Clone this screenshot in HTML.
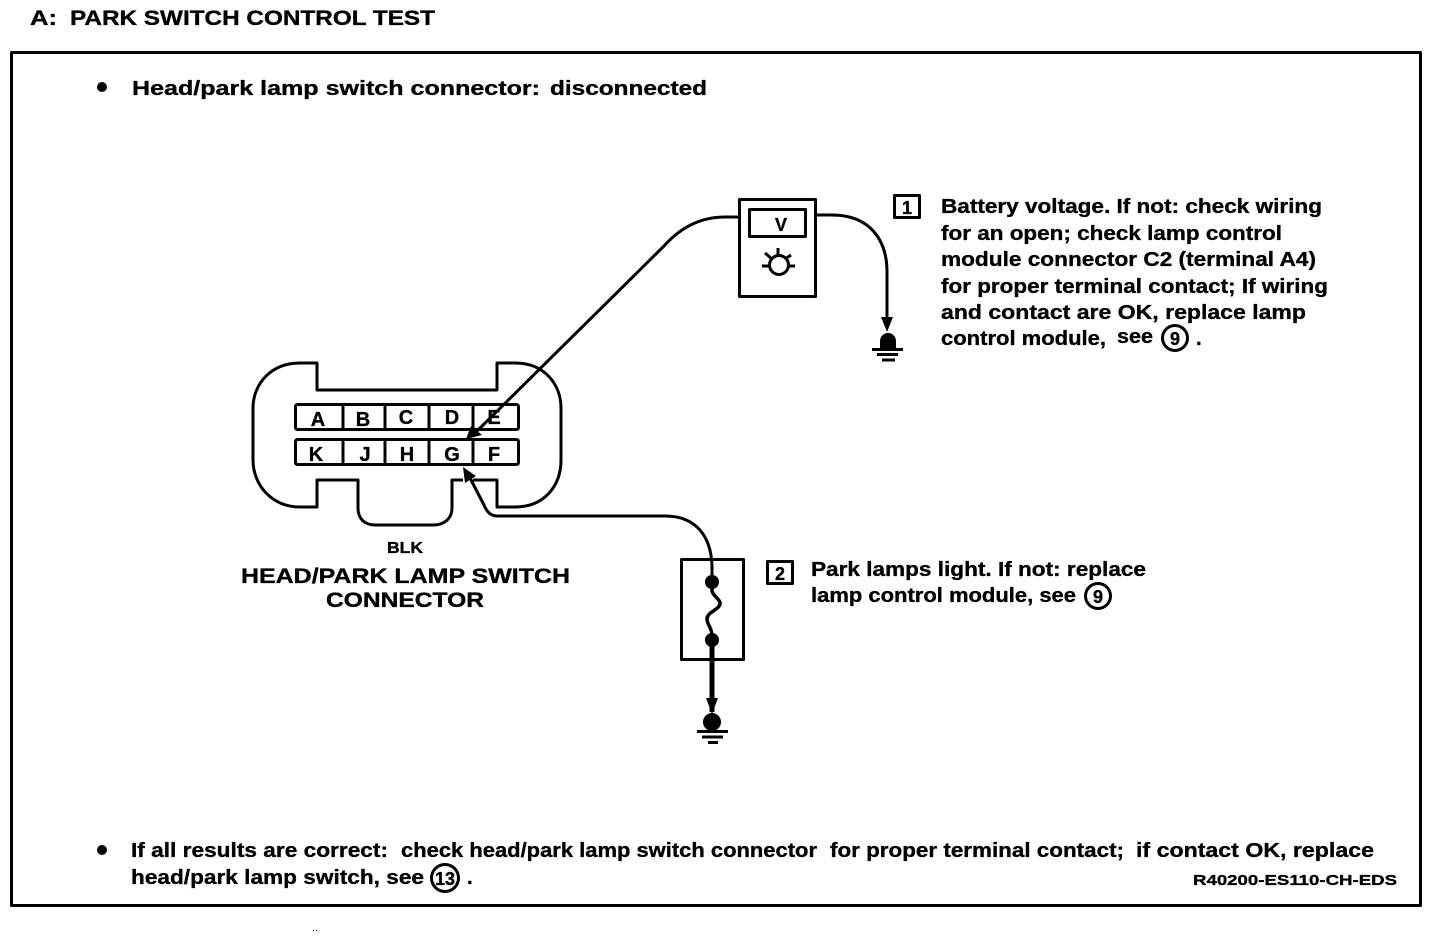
<!DOCTYPE html>
<html><head><meta charset="utf-8"><style>
html,body{margin:0;padding:0;background:#fff;width:1440px;height:936px;overflow:hidden}
svg{display:block}
text{font-family:"Liberation Sans",sans-serif;font-weight:bold;fill:#000;stroke:#000;stroke-width:.35}
.l{fill:none;stroke:#000;stroke-width:3;stroke-linejoin:round}
</style></head><body>
<svg width="1440" height="936" viewBox="0 0 1440 936" xmlns="http://www.w3.org/2000/svg">
<text x="30" y="25" font-size="21" textLength="27" lengthAdjust="spacingAndGlyphs">A:</text>
<text x="70" y="25" font-size="21" textLength="365" lengthAdjust="spacingAndGlyphs">PARK SWITCH CONTROL TEST</text>
<rect x="11.500" y="52.500" width="1409" height="853" class="l"/>
<circle cx="102" cy="87" r="5"/>
<text x="132" y="95" font-size="20.500" textLength="408" lengthAdjust="spacingAndGlyphs">Head/park lamp switch connector:</text>
<text x="550" y="95" font-size="20.500" textLength="157" lengthAdjust="spacingAndGlyphs">disconnected</text>

<!-- connector -->
<path class="l" d="M463 480 H452 V508 C452 518 445 525 433 525 H375 C364 525 358 518 358 508 V480 H317 V507 H300 C272 507 253 485 253 460 V408 C253 385 270 363 300 363 H317 V390 H497 V363 H515 C545 363 561 385 561 408 V460 C561 485 545 507 515 507 H497 V480 H473"/>
<rect x="295.500" y="404.500" width="223" height="25" rx="2" class="l"/>
<rect x="295.500" y="439.500" width="223" height="25" rx="2" class="l"/>
<path class="l" d="M343 405V429M385 405V429M429 405V429M473 405V429M343 440V464M385 440V464M429 440V464M473 440V464"/>
<g font-size="20" text-anchor="middle">
<text x="318" y="426">A</text><text x="363" y="426">B</text><text x="406" y="424">C</text><text x="452" y="424">D</text><text x="494" y="424">E</text>
<text x="316" y="461">K</text><text x="365" y="461">J</text><text x="407" y="461">H</text><text x="452" y="461">G</text><text x="494" y="461">F</text>
</g>
<text x="387" y="553" font-size="15.500" textLength="36" lengthAdjust="spacingAndGlyphs">BLK</text>
<text x="241" y="583" font-size="21" textLength="329" lengthAdjust="spacingAndGlyphs">HEAD/PARK LAMP SWITCH</text>
<text x="326" y="607" font-size="21" textLength="158" lengthAdjust="spacingAndGlyphs">CONNECTOR</text>

<!-- meter -->
<rect x="739.500" y="199.500" width="76" height="97" class="l"/>
<rect x="749.500" y="209.500" width="56" height="27" class="l"/>
<text x="781" y="231" font-size="18" text-anchor="middle">V</text>
<circle cx="779" cy="265" r="9.500" class="l"/>
<path class="l" d="M762 266H770M788 266H795M778 248V256M765 253L772 259M791 255L785 259"/>
<path class="l" d="M738 217 H725 C700 217 680 228 664 246 L475 433"/>
<polygon points="466,439 471,426 482,435"/>
<path class="l" d="M816 215 H832 C870 215 887 240 887 272 V322"/>
<polygon points="881,317 893,317 887,332"/>
<circle cx="888" cy="341" r="8"/><rect x="880" y="341" width="16" height="8"/>
<path class="l" d="M872 349.500H903M877 354.500H898M882 360H895"/>

<!-- switch -->
<rect x="681.500" y="559.500" width="62" height="100" class="l"/>
<path d="M712 586 V591 C713 596 721 600 720 604 C719 610 707 612 707 619 C707 625 712 627 712 636" fill="none" stroke="#000" stroke-width="3.500"/>
<circle cx="712" cy="582" r="7"/><circle cx="712" cy="640" r="7"/>
<path d="M712 645 V712" fill="none" stroke="#000" stroke-width="5"/>
<polygon points="706,698 718,698 712,714"/>
<circle cx="712" cy="722" r="9"/>
<path class="l" d="M697 731.500H728M702 737H723M708 742.500H718"/>
<path class="l" d="M712 582 V566 C711 535 695 516 665 516 H497 C490 516 486 510 484 505 L470 478"/>
<polygon points="463,467 465,483 476,476"/>

<!-- numbered boxes -->
<rect x="894.500" y="195.500" width="25" height="22" class="l"/>
<text x="907" y="214" font-size="18" text-anchor="middle">1</text>
<rect x="767.500" y="561.500" width="25" height="22" class="l"/>
<text x="780" y="580" font-size="18" text-anchor="middle">2</text>

<!-- text 1 -->
<g font-size="20.500">
<text x="941" y="213" textLength="381" lengthAdjust="spacingAndGlyphs">Battery voltage. If not: check wiring</text>
<text x="941" y="240" textLength="341" lengthAdjust="spacingAndGlyphs">for an open; check lamp control</text>
<text x="941" y="266" textLength="375" lengthAdjust="spacingAndGlyphs">module connector C2 (terminal A4)</text>
<text x="941" y="293" textLength="387" lengthAdjust="spacingAndGlyphs">for proper terminal contact; If wiring</text>
<text x="941" y="319" textLength="365" lengthAdjust="spacingAndGlyphs">and contact are OK, replace lamp</text>
<text x="941" y="345" textLength="165" lengthAdjust="spacingAndGlyphs">control module,</text>
<text x="1117" y="343" textLength="36" lengthAdjust="spacingAndGlyphs">see</text>
<text x="1196" y="345">.</text>
<text x="811" y="576" textLength="335" lengthAdjust="spacingAndGlyphs">Park lamps light. If not: replace</text>
<text x="811" y="602" textLength="265" lengthAdjust="spacingAndGlyphs">lamp control module, see</text>
<text x="131" y="857" textLength="257" lengthAdjust="spacingAndGlyphs">If all results are correct:</text>
<text x="401" y="857" textLength="416" lengthAdjust="spacingAndGlyphs">check head/park lamp switch connector</text>
<text x="830" y="857" textLength="294" lengthAdjust="spacingAndGlyphs">for proper terminal contact;</text>
<text x="1136" y="857" textLength="238" lengthAdjust="spacingAndGlyphs">if contact OK, replace</text>
<text x="131" y="884" textLength="293" lengthAdjust="spacingAndGlyphs">head/park lamp switch, see</text>
<text x="467" y="884">.</text>
</g>
<circle cx="102" cy="850" r="5"/>

<!-- circled refs -->
<circle cx="1175" cy="338" r="12.500" class="l"/><text x="1175" y="345" font-size="18" text-anchor="middle">9</text>
<circle cx="1098" cy="596" r="12.500" class="l"/><text x="1098" y="603" font-size="18" text-anchor="middle">9</text>
<circle cx="445" cy="878" r="13.500" class="l"/><text x="445" y="885" font-size="18" text-anchor="middle" textLength="20" lengthAdjust="spacingAndGlyphs">13</text>

<text x="1193" y="885" font-size="15" textLength="204" lengthAdjust="spacingAndGlyphs">R40200-ES110-CH-EDS</text>
<rect x="313" y="930" width="1" height="1"/><rect x="316" y="930" width="1" height="1"/>
</svg>
</body></html>
